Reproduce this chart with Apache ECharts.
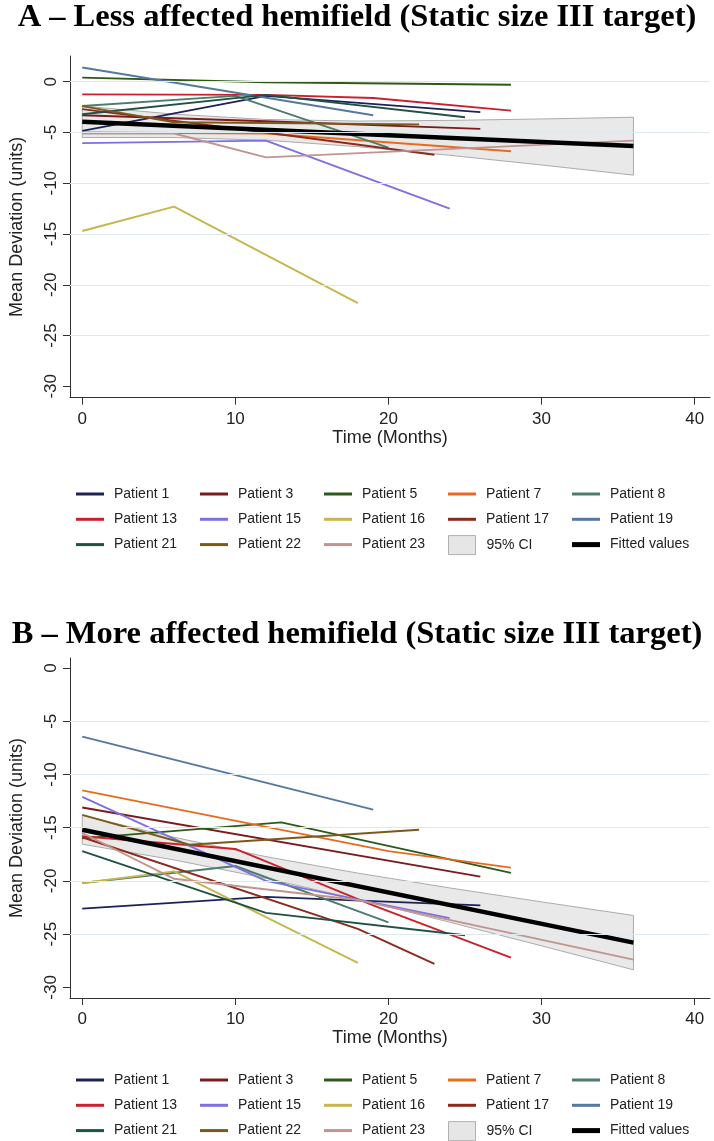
<!DOCTYPE html>
<html><head><meta charset="utf-8">
<script src="https://cdn.jsdelivr.net/npm/echarts@6/dist/echarts.min.js"></script>
<style>html,body{margin:0;padding:0;background:#fff}#c{width:714px;height:1141px}</style>
</head><body><div id="c"></div>
<script>
// ---------------- DATA ----------------
const titleA = 'A \u2013 Less affected hemifield (Static size III target)';
const titleB = 'B \u2013 More affected hemifield (Static size III target)';
const patientNames = ['Patient 1','Patient 3','Patient 5','Patient 7','Patient 8','Patient 13','Patient 15','Patient 16','Patient 17','Patient 19','Patient 21','Patient 22','Patient 23'];
const xTicks = [0, 10, 20, 30, 40];
const yTicks = [-30, -25, -20, -15, -10, -5, 0];
const gridValuesA = [0, -5, -10, -15, -20, -25];
const gridValuesB = [-5, -10, -15, -20, -25];

// Panel A: less affected hemifield, [month, mean deviation]
const lessP1  = [[0,-4.85],[12,-1.4],[26,-3.0]];
const lessP3  = [[0,-3.3],[12,-3.9],[26,-4.65]];
const lessP5  = [[0,0.4],[12,-0.05],[28,-0.3]];
const lessP7  = [[0,-5.0],[12,-5.1],[28,-6.85]];
const lessP8  = [[0,-2.4],[10,-1.4],[20,-6.5]];
const lessP13 = [[0,-1.25],[12,-1.3],[19,-1.6],[28,-2.85]];
const lessP15 = [[0,-6.05],[12,-5.8],[24,-12.5]];
const lessP16 = [[0,-14.7],[6,-12.3],[18,-21.8]];
const lessP17 = [[0,-2.7],[12,-5.0],[23,-7.2]];
const lessP19 = [[0,1.4],[19,-3.3]];
const lessP21 = [[0,-3.2],[12,-1.3],[25,-3.5]];
const lessP22 = [[0,-2.4],[6,-4.0],[22,-4.2]];
const lessP23 = [[0,-5.1],[6,-5.1],[12,-7.45],[36,-5.8]];
const lessFit = [[0,-3.95],[36,-6.33]];
const ciMonths = [0, 6, 12, 18, 24, 30, 36];
const lessCiLow  = [-5.5,-5.5,-5.76,-6.4,-7.25,-8.2,-9.2];
const lessCiHigh = [-2.4,-3.2,-3.72,-3.88,-3.81,-3.67,-3.5];

// Panel B: more affected hemifield
const moreP1  = [[0,-22.6],[12,-21.5],[26,-22.3]];
const moreP3  = [[0,-13.1],[26,-19.6]];
const moreP5  = [[0,-16.0],[13,-14.5],[28,-19.25]];
const moreP7  = [[0,-11.5],[20,-17.2],[28,-18.75]];
const moreP8  = [[0,-20.2],[10,-18.6],[20,-23.9]];
const moreP13 = [[0,-15.8],[10,-17.0],[19,-22.3],[28,-27.2]];
const moreP15 = [[0,-12.1],[12,-20.0],[24,-23.5]];
const moreP16 = [[0,-20.2],[6,-19.1],[18,-27.7]];
const moreP17 = [[0,-15.9],[18,-24.5],[23,-27.8]];
const moreP19 = [[0,-6.45],[19,-13.3]];
const moreP21 = [[0,-17.2],[12,-23.0],[25,-25.1]];
const moreP22 = [[0,-13.8],[7,-16.6],[22,-15.2]];
const moreP23 = [[0,-15.5],[6,-19.8],[18,-21.8],[36,-27.4]];
const moreFit = [[0,-15.2],[36,-25.8]];
const moreCiLow  = [-16.55,-18.03,-19.75,-21.73,-23.88,-26.1,-28.35];
const moreCiHigh = [-13.85,-15.9,-17.72,-19.27,-20.66,-21.97,-23.25];

// ---------------- STYLE ----------------
const patientColors = ['#1c2257','#7a1c1e','#2c5a1a','#e96a1e','#4e7c6a','#cc1f2c','#7d70e0','#c6b64e','#8c2a1c','#5577a0','#1f5244','#7a5a1a','#c0958f'];
const FONT = 'Liberation Sans, Arial, sans-serif';
const lessData = [lessP1,lessP3,lessP5,lessP7,lessP8,lessP13,lessP15,lessP16,lessP17,lessP19,lessP21,lessP22,lessP23];
const moreData = [moreP1,moreP3,moreP5,moreP7,moreP8,moreP13,moreP15,moreP16,moreP17,moreP19,moreP21,moreP22,moreP23];

const grids = [
  {left:65, top:56, width:645, height:341.7, containLabel:false},
  {left:65, top:658, width:645, height:340, containLabel:false}
];
const yRanges = [[-31.12, 2.53], [-31.0, 0.94]];

function xAxisFor(i){
  return {gridIndex:i, type:'value', min:-0.8, max:41,
    axisLine:{show:true, onZero:false, lineStyle:{color:'#333', width:1}},
    axisTick:{show:true, length:7, customValues:xTicks, lineStyle:{color:'#333'}},
    axisLabel:{customValues:xTicks, margin:13, fontSize:17, color:'#222', fontFamily:FONT},
    splitLine:{show:false},
    name:'Time (Months)', nameLocation:'middle', nameGap:31,
    nameTextStyle:{fontSize:18, color:'#222', fontFamily:FONT}};
}
function yAxisFor(i){
  return {gridIndex:i, type:'value', min:yRanges[i][0], max:yRanges[i][1],
    axisLine:{show:true, onZero:false, lineStyle:{color:'#333', width:1}},
    axisTick:{show:true, length:7, customValues:yTicks, lineStyle:{color:'#333'}},
    axisLabel:{customValues:yTicks, rotate:90, margin:10, fontSize:17, color:'#222', fontFamily:FONT},
    splitLine:{show:false},
    name:'Mean Deviation (units)', nameLocation:'middle', nameGap:44,
    nameTextStyle:{fontSize:18, color:'#222', fontFamily:FONT}};
}

const series = [];
function addPanel(i, dataList, fit, ciLow, ciHigh, gridVals){
  series.push({type:'line', name:'_grid'+i, xAxisIndex:i, yAxisIndex:i, data:[], silent:true, z:1,
    markLine:{silent:true, symbol:'none', label:{show:false}, animation:false,
      lineStyle:{color:'#dde9ee', type:'solid', width:1.2},
      data: gridVals.map(v => ({yAxis:v}))}});
  dataList.forEach((d, k) => {
    series.push({type:'line', name:patientNames[k], xAxisIndex:i, yAxisIndex:i, data:d,
      symbol:'none', showSymbol:false, silent:true, clip:false, color:patientColors[k],
      lineStyle:{width:1.9, color:patientColors[k]}, z:2});
  });
  series.push({type:'custom', name:'95% CI', xAxisIndex:i, yAxisIndex:i, silent:true, z:2,
    color:'#e6e6e6',
    data:[[ciMonths[0], ciLow[0]]],
    renderItem:function(params, api){
      const pts = [];
      for (let j = 0; j < ciMonths.length; j++) pts.push(api.coord([ciMonths[j], ciHigh[j]]));
      for (let j = ciMonths.length - 1; j >= 0; j--) pts.push(api.coord([ciMonths[j], ciLow[j]]));
      return {type:'polygon', shape:{points:pts},
        style:{fill:'rgba(196,196,196,0.38)', stroke:'#ababab', lineWidth:1}};
    }});
  series.push({type:'line', name:'Fitted values', xAxisIndex:i, yAxisIndex:i, data:fit,
    symbol:'none', showSymbol:false, silent:true, color:'#000',
    lineStyle:{width:4.5, color:'#000'}, z:3});
}
addPanel(0, lessData, lessFit, lessCiLow, lessCiHigh, gridValuesA);
addPanel(1, moreData, moreFit, moreCiLow, moreCiHigh, gridValuesB);

// legends: 5 columns x 3 rows per panel
const colX = [76, 200, 324, 448, 572];
const legendCols = [
  ['Patient 1','Patient 13','Patient 21'],
  ['Patient 3','Patient 15','Patient 22'],
  ['Patient 5','Patient 16','Patient 23'],
  ['Patient 7','Patient 17'],
  ['Patient 8','Patient 19']
];
const rowTops = [494, 1080];
const rowPitch = 25.3;
const legends = [];
const legText = {fontSize:14, color:'#222', fontFamily:FONT, lineHeight:16, padding:[0,0,0,5]};
rowTops.forEach(r1 => {
  legendCols.forEach((names, c) => {
    legends.push({orient:'vertical', left:colX[c], top:r1 - 8, padding:0,
      itemWidth:28, itemHeight:3, itemGap:rowPitch - 16, icon:'rect', selectedMode:false,
      textStyle:legText, data:names});
  });
  legends.push({orient:'vertical', left:colX[3], top:r1 + 2*rowPitch - 9.5, padding:0,
    itemWidth:27, itemHeight:19, selectedMode:false,
    textStyle:Object.assign({}, legText, {padding:[0,0,0,6]}),
    data:[{name:'95% CI', icon:'rect', itemStyle:{color:'#e6e6e6', borderColor:'#b0b0b0', borderWidth:1}}]});
  legends.push({orient:'vertical', left:colX[4], top:r1 + 2*rowPitch - 8, padding:0,
    itemWidth:28, itemHeight:5, icon:'rect', selectedMode:false,
    textStyle:legText, data:['Fitted values']});
});

const TITLE_STYLE = {fontFamily:'Liberation Serif, Times New Roman, serif', fontWeight:'bold', fontSize:32.5, color:'#000'};
const chart = echarts.init(document.getElementById('c'), null, {renderer:'canvas'});
chart.setOption({
  animation:false,
  backgroundColor:'#fff',
  title:[
    {text:titleA, left:'center', top:1, padding:0, textStyle:TITLE_STYLE},
    {text:titleB, left:'center', top:618, padding:0, textStyle:TITLE_STYLE}
  ],
  grid:grids,
  xAxis:[xAxisFor(0), xAxisFor(1)],
  yAxis:[yAxisFor(0), yAxisFor(1)],
  legend:legends,
  series:series
});
</script></body></html>
